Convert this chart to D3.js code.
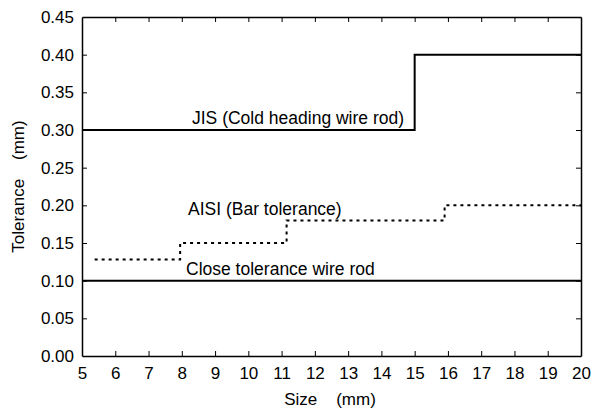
<!DOCTYPE html>
<html>
<head>
<meta charset="utf-8">
<script src="https://cdn.jsdelivr.net/npm/d3@7"></script>
<style>
  body { margin: 0; background: #fff; }
  svg { font-family: "Liberation Sans", Arial, sans-serif; }
</style>
</head>
<body>
<div id="svg-container"></div>
<script>
// data
const jisSize = [5, 15, 15, 20];
const jisTol = [0.30, 0.30, 0.40, 0.40];
const aisiSize = [5.38, 7.95, 7.95, 11.15, 11.15, 15.9, 15.9, 20];
const aisiTol = [0.128, 0.128, 0.15, 0.15, 0.18, 0.18, 0.20, 0.20];
const closeSize = [5, 20];
const closeTol = [0.10, 0.10];
const xTicks = d3.range(5, 21, 1);
const yTicks = d3.range(0, 0.451, 0.05);

const width = 594, height = 410;
const margin = { top: 17, right: 13, bottom: 54, left: 82 };

const svg = d3.select("#svg-container").append("svg")
  .attr("width", width).attr("height", height);

const xScale = d3.scaleLinear().domain([5, 20]).range([margin.left, width - margin.right]);
const yScale = d3.scaleLinear().domain([0, 0.45]).range([height - margin.bottom, margin.top]);

// axes (ticks inward on all sides)
const fmt = d3.format(".2f");
svg.append("g")
  .attr("transform", `translate(0,${height - margin.bottom})`)
  .call(d3.axisBottom(xScale).tickValues(xTicks).tickSizeInner(-5).tickSizeOuter(0).tickPadding(11))
  .call(g => g.selectAll("text").style("font-size", "17px").attr("fill", "#000"));
svg.append("g")
  .attr("transform", `translate(0,${margin.top})`)
  .call(d3.axisTop(xScale).tickValues(xTicks).tickSizeInner(-5).tickSizeOuter(0).tickFormat(""));
svg.append("g")
  .attr("transform", `translate(${margin.left},0)`)
  .call(d3.axisLeft(yScale).tickValues(yTicks).tickSizeInner(-5).tickSizeOuter(0).tickPadding(8).tickFormat(fmt))
  .call(g => g.selectAll("text").style("font-size", "17px").attr("fill", "#000"));
svg.append("g")
  .attr("transform", `translate(${width - margin.right},0)`)
  .call(d3.axisRight(yScale).tickValues(yTicks).tickSizeInner(-5).tickSizeOuter(0).tickFormat(""));

svg.selectAll(".domain").attr("stroke", "#000").attr("stroke-width", 1.5);
svg.selectAll(".tick line").attr("stroke", "#000");
// remove end ticks that sit on the frame
svg.selectAll(".tick line").filter(d => d === 5 || d === 20 || d === 0 || Math.abs(d - 0.45) < 1e-9).remove();

// axis titles
svg.append("text")
  .attr("x", 330)
  .attr("y", 405)
  .attr("text-anchor", "middle")
  .style("font-size", "17px")
  .attr("xml:space", "preserve")
  .text("Size    (mm)");
svg.append("text")
  .attr("transform", `translate(24,${(margin.top + height - margin.bottom) / 2}) rotate(-90)`)
  .attr("text-anchor", "middle")
  .style("font-size", "17px")
  .attr("xml:space", "preserve")
  .text("Tolerance    (mm)");

// lines
const line = (xs, ys) => d3.line().x((d, i) => xScale(xs[i])).y((d, i) => yScale(ys[i]))(xs);

svg.append("path").attr("d", line(jisSize, jisTol))
  .attr("fill", "none").attr("stroke", "#000").attr("stroke-width", 2);
svg.append("path").attr("d", line(closeSize, closeTol))
  .attr("fill", "none").attr("stroke", "#000").attr("stroke-width", 2);
svg.append("path").attr("d", line(aisiSize, aisiTol))
  .attr("fill", "none").attr("stroke", "#000").attr("stroke-width", 2)
  .attr("stroke-dasharray", "3,4");

// labels
svg.append("text").attr("x", 192).attr("y", 124).style("font-size", "17.5px").text("JIS (Cold heading wire rod)");
svg.append("text").attr("x", 188).attr("y", 215).style("font-size", "17.5px").text("AISI (Bar tolerance)");
svg.append("text").attr("x", 186).attr("y", 275).style("font-size", "17.5px").text("Close tolerance wire rod");
</script>
</body>
</html>
